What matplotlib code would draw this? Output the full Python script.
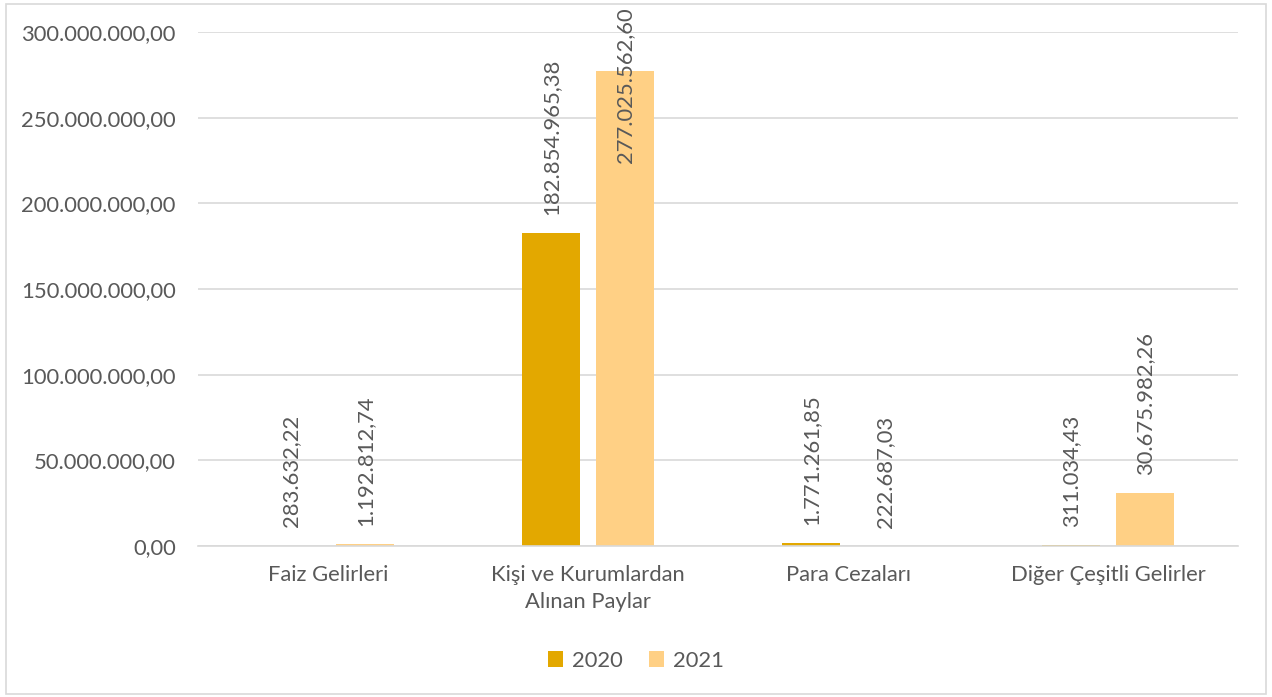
import matplotlib as mpl
mpl.use('Agg')
import matplotlib.pyplot as plt
import numpy as np
from matplotlib.ticker import FuncFormatter
from matplotlib.patches import Rectangle

plt.rcParams['font.family'] = ['Lato', 'DejaVu Sans']

categories = ['Faiz Gelirleri', 'Kişi ve Kurumlardan\nAlınan Paylar',
              'Para Cezaları', 'Diğer Çeşitli Gelirler']
years = ['2020', '2021']
values_2020 = [283632.22, 182854965.38, 1771261.85, 311034.43]
values_2021 = [1192812.74, 277025562.60, 222687.03, 30675982.26]
yticks = [0, 50e6, 100e6, 150e6, 200e6, 250e6, 300e6]

colors = ['#E3A800', '#FFD085']
text_color = '#595959'
grid_color = '#D9D9D9'
fs = 15.8


def tr_fmt(v, pos=None):
    s = f'{v:,.2f}'
    return s.replace(',', 'X').replace('.', ',').replace('X', '.')


fig = plt.figure(figsize=(12.72, 6.97), dpi=100)
ax = fig.add_axes([0.1557, 0.2166, 0.8176, 0.7375])

x = np.arange(len(categories))
width = 0.223
offset = 0.142
ymax = 300e6

for i, (vals, col, yr) in enumerate(zip([values_2020, values_2021], colors, years)):
    xs = x + (offset if i else -offset)
    ax.bar(xs, vals, width=width, color=col, label=yr, zorder=2)
    for xi, v in zip(xs, vals):
        if v > 0.8 * ymax:
            # label would leave the chart, keep it pinned under the top edge
            ax.annotate(tr_fmt(v), xy=(xi, 1), xycoords=('data', 'axes fraction'),
                        xytext=(0, 18), textcoords='offset points',
                        rotation=90, ha='center', va='top',
                        fontsize=fs, color=text_color)
        else:
            ax.annotate(tr_fmt(v), xy=(xi, v), xytext=(0, 13),
                        textcoords='offset points', rotation=90,
                        ha='center', va='bottom', fontsize=fs, color=text_color)

ax.set_xlim(-0.5, len(categories) - 0.5)
ax.set_ylim(0, ymax)
ax.set_yticks(yticks)
ax.yaxis.set_major_formatter(FuncFormatter(tr_fmt))
ax.set_xticks(x)
ax.set_xticklabels(categories, linespacing=1.4)
ax.tick_params(axis='y', length=0, pad=16, labelsize=fs, labelcolor=text_color)
ax.tick_params(axis='x', length=0, pad=14, labelsize=fs, labelcolor=text_color)
ax.grid(axis='y', color=grid_color, linewidth=1.2, zorder=0)
for side in ['top', 'right', 'left']:
    ax.spines[side].set_visible(False)
ax.spines['bottom'].set_color(grid_color)
ax.spines['bottom'].set_linewidth(1.2)

leg = fig.legend(loc='center', bbox_to_anchor=(0.5, 0.052), ncol=2, frameon=False,
                 fontsize=fs, handlelength=0.7, handleheight=0.7,
                 handletextpad=0.4, columnspacing=1.2)
for t in leg.get_texts():
    t.set_color(text_color)

fig.patches.append(Rectangle((0.005, 0.004), 0.99, 0.99, transform=fig.transFigure,
                             fill=False, edgecolor=grid_color, linewidth=1.2))

fig.savefig('out.png', dpi=100)
